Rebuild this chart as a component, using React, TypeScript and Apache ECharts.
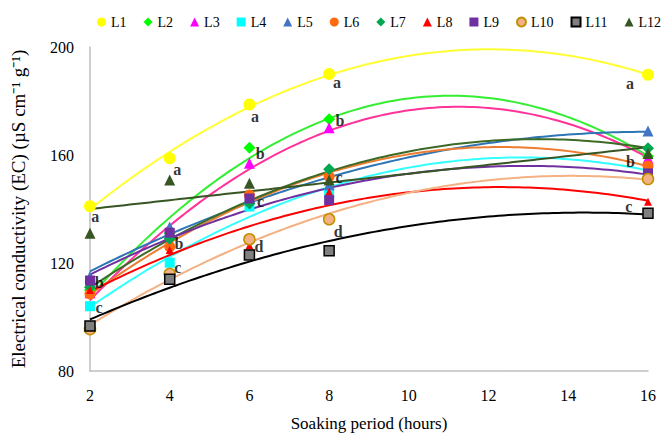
import React, { useEffect, useRef } from "react";
import * as echarts from "echarts";

// Soaking period (hours)
const hours = [2, 4, 6, 8, 16];
const xTicks = [2, 4, 6, 8, 10, 12, 14, 16];
const yTicks = [80, 120, 160, 200];

const names = ["L1", "L2", "L3", "L4", "L5", "L6", "L7", "L8", "L9", "L10", "L11", "L12"];

// EC values (µS cm-1 g-1)
const L1 = [141.0, 158.8, 178.7, 190.0, 189.7];
const L2 = [110.0, 131.0, 162.7, 173.2, 159.5];
const L3 = [109.0, 128.0, 156.9, 170.1, 158.8];
const L4 = [104.0, 120.1, 140.9, 146.0, 154.4];
const L5 = [115.0, 133.3, 144.0, 149.0, 168.9];
const L6 = [108.5, 126.0, 145.2, 152.0, 155.9];
const L7 = [111.0, 129.0, 142.0, 154.7, 162.5];
const L8 = [110.0, 124.8, 126.5, 146.4, 142.7];
const L9 = [113.5, 131.2, 143.9, 143.3, 153.2];
const L10 = [95.5, 116.0, 128.8, 136.2, 151.1];
const L11 = [96.7, 114.0, 123.0, 124.5, 138.4];
const L12 = [131.0, 150.7, 149.5, 150.7, 160.6];
const values = [L1, L2, L3, L4, L5, L6, L7, L8, L9, L10, L11, L12];

// trendline type per line (Excel-style fits)
const fitOrder = [2, 2, 2, 2, 2, 2, 2, 2, 2, 2, 2, 1];

// significance letters: [hours, EC, letter]
const letters: [number, number, string][] = [
  [2.13, 137.1, "a"],
  [2.23, 112.7, "b"],
  [2.23, 103.6, "c"],
  [4.19, 154.7, "a"],
  [4.23, 127.3, "b"],
  [4.2, 118.4, "c"],
  [6.14, 174.2, "a"],
  [6.27, 160.6, "b"],
  [6.28, 142.7, "c"],
  [6.24, 126.0, "d"],
  [8.2, 186.8, "a"],
  [8.27, 172.6, "b"],
  [8.25, 151.6, "c"],
  [8.23, 131.6, "d"],
  [15.55, 186.3, "a"],
  [15.56, 157.5, "b"],
  [15.52, 140.9, "c"],
];

type Sty = {
  color: string;
  symbol: string;
  size: number;
  border?: string;
  line: string;
};
const styles: Sty[] = [
  { color: "#FFFF00", symbol: "circle", size: 12, line: "#FFFF33" },
  { color: "#00FF00", symbol: "diamond", size: 12, line: "#33EE33" },
  { color: "#FF00FF", symbol: "triangle", size: 11, line: "#FF3399" },
  { color: "#00FFFF", symbol: "rect", size: 10, line: "#33FFFF" },
  { color: "#4472C4", symbol: "triangle", size: 11, line: "#2E75B6" },
  { color: "#FF6A10", symbol: "circle", size: 11, line: "#ED7D31" },
  { color: "#00A650", symbol: "diamond", size: 12, line: "#3D6B27" },
  { color: "#FF0000", symbol: "triangle", size: 8, line: "#FF0000" },
  { color: "#7030A0", symbol: "rect", size: 10, line: "#7030A0" },
  { color: "#F4B183", symbol: "circle", size: 11, border: "#BF9000", line: "#F4B183" },
  { color: "#7F7F7F", symbol: "rect", size: 10, border: "#000000", line: "#000000" },
  { color: "#375623", symbol: "triangle", size: 11, line: "#375623" },
];

function solve(A: number[][], b: number[]): number[] {
  const n = b.length;
  const M = A.map((r, i) => [...r, b[i]]);
  for (let c = 0; c < n; c++) {
    let p = c;
    for (let r = c + 1; r < n; r++) if (Math.abs(M[r][c]) > Math.abs(M[p][c])) p = r;
    [M[c], M[p]] = [M[p], M[c]];
    for (let r = 0; r < n; r++) {
      if (r === c) continue;
      const f = M[r][c] / M[c][c];
      for (let k = c; k <= n; k++) M[r][k] -= f * M[c][k];
    }
  }
  return M.map((r, i) => r[n] / r[i]);
}

function polyFit(xs: number[], ys: number[], order: number): number[] {
  const n = order + 1;
  const A: number[][] = [];
  const b: number[] = [];
  for (let i = 0; i < n; i++) {
    A.push([]);
    for (let j = 0; j < n; j++) {
      let s = 0;
      xs.forEach((x) => (s += Math.pow(x, i + j)));
      A[i].push(s);
    }
    let t = 0;
    xs.forEach((x, k) => (t += Math.pow(x, i) * ys[k]));
    b.push(t);
  }
  return solve(A, b);
}

function trend(ys: number[], order: number): [number, number][] {
  const c = polyFit(hours, ys, order);
  const out: [number, number][] = [];
  const x0 = hours[0];
  const x1 = hours[hours.length - 1];
  const steps = 112;
  for (let i = 0; i <= steps; i++) {
    const x = x0 + ((x1 - x0) * i) / steps;
    let y = 0;
    c.forEach((ci, k) => (y += ci * Math.pow(x, k)));
    out.push([x, y]);
  }
  return out;
}

const FONT = "'Liberation Serif', 'Times New Roman', serif";

export default function App() {
  const ref = useRef<HTMLDivElement>(null);
  useEffect(() => {
    if (!ref.current) return;
    const chart = echarts.init(ref.current, undefined, { renderer: "svg" });
    const series: any[] = [];
    names.forEach((n, i) => {
      const s = styles[i];
      series.push({
        name: n + " trend",
        type: "line",
        data: trend(values[i], fitOrder[i]),
        showSymbol: false,
        symbol: "none",
        smooth: false,
        lineStyle: { color: s.line, width: 2 },
        z: 2,
        silent: true,
      });
    });
    names.forEach((n, i) => {
      const s = styles[i];
      series.push({
        name: n,
        type: "scatter",
        data: hours.map((h, k) => [h, values[i][k]]),
        symbol: s.symbol,
        symbolSize: s.size,
        itemStyle: {
          color: s.color,
          opacity: 1,
          borderColor: s.border || s.color,
          borderWidth: s.border ? 1.5 : 0,
        },
        z: 5,
      });
    });
    series.push({
      name: "letters",
      type: "scatter",
      data: letters.map((l) => [l[0], l[1], l[2]]),
      symbolSize: 0,
      z: 10,
      label: {
        show: true,
        position: "inside",
        formatter: (p: any) => p.value[2],
        fontFamily: FONT,
        fontWeight: "bold",
        fontSize: 16,
        color: "#000",
      },
      silent: true,
    });

    chart.setOption({
      animation: false,
      backgroundColor: "#ffffff",
      textStyle: { fontFamily: FONT },
      legend: {
        data: names.map((n, i) => ({ name: n, icon: styles[i].symbol })),
        left: 97,
        top: 15,
        width: 600,
        padding: 0,
        itemWidth: 9,
        itemHeight: 9,
        itemGap: 17,
        textStyle: { fontFamily: FONT, fontSize: 14, color: "#000" },
      },
      grid: {
        left: 90,
        right: 22,
        top: 47,
        bottom: 63,
        containLabel: false,
        outerBoundsMode: "none",
      },
      xAxis: {
        type: "value",
        min: xTicks[0],
        max: xTicks[xTicks.length - 1],
        interval: xTicks[1] - xTicks[0],
        name: "Soaking period (hours)",
        nameLocation: "middle",
        nameGap: 44,
        nameTextStyle: { fontFamily: FONT, fontSize: 17, color: "#000" },
        axisLine: { show: true, lineStyle: { color: "#BFBFBF", width: 1.5 } },
        axisTick: { show: false },
        splitLine: { show: false },
        axisLabel: { fontFamily: FONT, fontSize: 16, color: "#000", margin: 16 },
      },
      yAxis: {
        type: "value",
        min: yTicks[0],
        max: yTicks[yTicks.length - 1],
        interval: yTicks[1] - yTicks[0],
        name: "Electrical conductivity (EC) (\u00B5S cm\u207B\u00B9 g\u207B\u00B9)",
        nameLocation: "middle",
        nameRotate: 90,
        nameGap: 62,
        nameTextStyle: { fontFamily: FONT, fontSize: 19, color: "#000" },
        axisLine: { show: true, lineStyle: { color: "#BFBFBF", width: 1.5 } },
        axisTick: { show: false },
        splitLine: { show: false },
        axisLabel: { fontFamily: FONT, fontSize: 16, color: "#000", margin: 16 },
      },
      series,
    });
    return () => chart.dispose();
  }, []);
  return (
    <div
      ref={ref}
      style={{ position: "fixed", left: 0, top: 0, width: 670, height: 434 }}
    />
  );
}
